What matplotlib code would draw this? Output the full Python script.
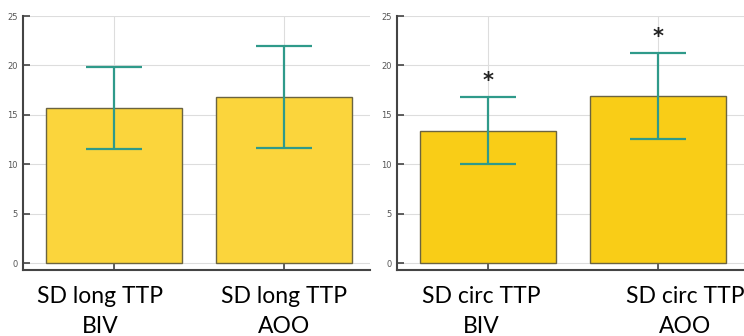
import numpy as np
import matplotlib.pyplot as plt
from matplotlib.transforms import blended_transform_factory

# values
labels_long = [("SD long TTP", "BIV"), ("SD long TTP", "AOO")]
mean_long = [15.7, 16.8]
err_long = [4.15, 5.2]

labels_circ = [("SD circ TTP", "BIV"), ("SD circ TTP", "AOO")]
mean_circ = [13.4, 16.9]
err_circ = [3.4, 4.35]
star_circ = ["*", "*"]

yticks = [0, 5, 10, 15, 20, 25]

# -----------------------------------------------------------------

fig = plt.figure(figsize=(7.44, 3.36), dpi=100)
fig.patch.set_facecolor("white")


def panel(rect, labels, means, errs, color, label_shift, stars=None):
    ax = fig.add_axes(rect)
    x = np.arange(1, len(means) + 1)
    ax.bar(x, means, width=0.8, color=color, edgecolor="#6b6440", linewidth=1.0, zorder=2)
    ax.errorbar(x, means, yerr=errs, fmt="none", ecolor="#2f9a8a", elinewidth=1.6,
                capsize=20, capthick=1.6, zorder=3)
    if stars is not None:
        for xi, m, e, s in zip(x, means, errs, stars):
            ax.text(xi, m + e + 0.6, s, ha="center", va="bottom", fontsize=15,
                    fontweight="bold", color="#222222", zorder=4)
    ax.set_xlim(0.465, 2.506)
    ax.set_ylim(-0.7, 25)
    ax.set_yticks(yticks)
    ax.set_xticks(x)
    ax.set_xticklabels([])

    # category labels, two lines each, placed below the axis
    trans = blended_transform_factory(ax.transData, fig.transFigure)
    for xi, dx, (l1, l2) in zip(x, label_shift, labels):
        ax.text(xi + dx, 1 - 303 / 336, l1, transform=trans, ha="center", va="baseline",
                fontsize=16.5, family="Lato", color="black")
        ax.text(xi + dx, 1 - 333 / 336, l2, transform=trans, ha="center", va="baseline",
                fontsize=16.5, family="Lato", color="black")

    ax.grid(True, color="#dddddd", linewidth=0.8, zorder=0)
    ax.set_axisbelow(True)
    for side in ["top", "right"]:
        ax.spines[side].set_visible(False)
    for side in ["left", "bottom"]:
        ax.spines[side].set_color("#444444")
        ax.spines[side].set_linewidth(1.5)
    ax.spines["left"].set_bounds(-0.7, 25)
    ax.tick_params(axis="y", direction="in", length=5, width=1.2, colors="#444444",
                   labelsize=6, labelcolor="#555555", pad=4)
    ax.tick_params(axis="x", direction="in", length=6, width=1.2, colors="#444444")
    return ax


panel([23 / 744, 1 - 270 / 336, 347 / 744, 254 / 336], labels_long, mean_long, err_long,
      "#fbd53c", [-0.08, 0.0])
panel([397 / 744, 1 - 270 / 336, 347 / 744, 254 / 336], labels_circ, mean_circ, err_circ,
      "#f9cd17", [-0.04, 0.16], stars=star_circ)

fig.savefig("out.png", dpi=100)
